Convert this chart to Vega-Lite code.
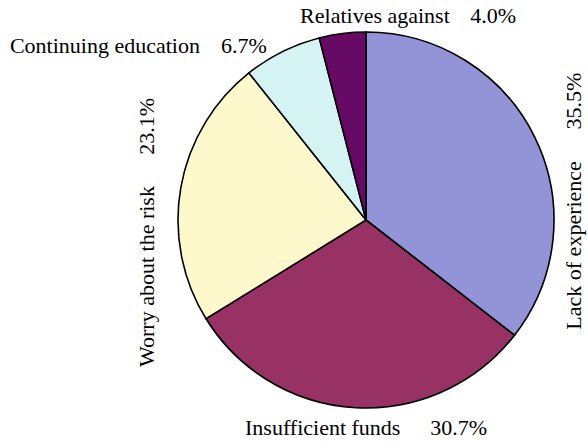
{
  "$schema": "https://vega.github.io/schema/vega-lite/v6.json",
  "autosize": "none",
  "width": 440,
  "height": 440,
  "padding": {"left": 146, "top": 0, "right": 2, "bottom": 2},
  "background": "white",
  "config": {"view": {"stroke": null}},
  "data": {
    "values": [
      {"label": "Lack of experience", "share": 0.355, "order": 1},
      {"label": "Insufficient funds", "share": 0.307, "order": 2},
      {"label": "Worry about the risk", "share": 0.231, "order": 3},
      {"label": "Continuing education", "share": 0.067, "order": 4},
      {"label": "Relatives against", "share": 0.040, "order": 5}
    ]
  },
  "encoding": {
    "theta": {"field": "share", "type": "quantitative", "stack": true},
    "order": {"field": "order", "type": "quantitative"}
  },
  "layer": [
    {
      "mark": {"type": "arc", "outerRadius": 188, "stroke": "black", "strokeWidth": 1.6},
      "encoding": {
        "color": {
          "field": "label", "type": "nominal", "legend": null,
          "scale": {
            "domain": ["Lack of experience", "Insufficient funds", "Worry about the risk", "Continuing education", "Relatives against"],
            "range": ["#9393d8", "#983264", "#fdf9cd", "#d5f3f3", "#660a66"]
          }
        }
      }
    },
    {
      "mark": {"type": "text", "radius": 198.6, "dx": -41, "dy": 0, "align": "left", "baseline": "alphabetic", "font": "Liberation Serif", "fontSize": 22, "fill": "black"},
      "encoding": {"detail": {"field": "label"}, "text": {"field": "label", "type": "nominal", "condition": {"test": "datum.label !== 'Relatives against'", "value": ""}}}
    },
    {
      "mark": {"type": "text", "radius": 198.6, "dx": 175, "dy": 0, "align": "right", "baseline": "alphabetic", "font": "Liberation Serif", "fontSize": 22, "fill": "black"},
      "encoding": {"detail": {"field": "label"}, "text": {"field": "share", "type": "quantitative", "format": ".1%", "condition": {"test": "datum.label !== 'Relatives against'", "value": ""}}}
    },
    {
      "mark": {"type": "text", "radius": 186.5, "dx": -273, "dy": 0, "align": "left", "baseline": "alphabetic", "font": "Liberation Serif", "fontSize": 22, "fill": "black"},
      "encoding": {"detail": {"field": "label"}, "text": {"field": "label", "type": "nominal", "condition": {"test": "datum.label !== 'Continuing education'", "value": ""}}}
    },
    {
      "mark": {"type": "text", "radius": 186.5, "dx": -16, "dy": 0, "align": "right", "baseline": "alphabetic", "font": "Liberation Serif", "fontSize": 22, "fill": "black"},
      "encoding": {"detail": {"field": "label"}, "text": {"field": "share", "type": "quantitative", "format": ".1%", "condition": {"test": "datum.label !== 'Continuing education'", "value": ""}}}
    },
    {
      "mark": {"type": "text", "radius": 215.3, "dx": -109.5, "dy": 0, "align": "left", "baseline": "alphabetic", "font": "Liberation Serif", "fontSize": 22, "fill": "black"},
      "encoding": {"detail": {"field": "label"}, "text": {"field": "label", "type": "nominal", "condition": {"test": "datum.label !== 'Insufficient funds'", "value": ""}}}
    },
    {
      "mark": {"type": "text", "radius": 215.3, "dx": 132.5, "dy": 0, "align": "right", "baseline": "alphabetic", "font": "Liberation Serif", "fontSize": 22, "fill": "black"},
      "encoding": {"detail": {"field": "label"}, "text": {"field": "share", "type": "quantitative", "format": ".1%", "condition": {"test": "datum.label !== 'Insufficient funds'", "value": ""}}}
    },
    {
      "mark": {"type": "text", "radius": 215.2, "angle": 270, "dx": -184, "dy": 0, "align": "left", "baseline": "alphabetic", "font": "Liberation Serif", "fontSize": 22, "fill": "black"},
      "encoding": {"detail": {"field": "label"}, "text": {"field": "label", "type": "nominal", "condition": {"test": "datum.label !== 'Worry about the risk'", "value": ""}}}
    },
    {
      "mark": {"type": "text", "radius": 215.2, "angle": 270, "dx": 85, "dy": 0, "align": "right", "baseline": "alphabetic", "font": "Liberation Serif", "fontSize": 22, "fill": "black"},
      "encoding": {"detail": {"field": "label"}, "text": {"field": "share", "type": "quantitative", "format": ".1%", "condition": {"test": "datum.label !== 'Worry about the risk'", "value": ""}}}
    },
    {
      "mark": {"type": "text", "radius": 239.4, "angle": 270, "dx": -215, "dy": 0, "align": "left", "baseline": "alphabetic", "font": "Liberation Serif", "fontSize": 22, "fill": "black"},
      "encoding": {"detail": {"field": "label"}, "text": {"field": "label", "type": "nominal", "condition": {"test": "datum.label !== 'Lack of experience'", "value": ""}}}
    },
    {
      "mark": {"type": "text", "radius": 239.4, "angle": 270, "dx": 42, "dy": 0, "align": "right", "baseline": "alphabetic", "font": "Liberation Serif", "fontSize": 22, "fill": "black"},
      "encoding": {"detail": {"field": "label"}, "text": {"field": "share", "type": "quantitative", "format": ".1%", "condition": {"test": "datum.label !== 'Lack of experience'", "value": ""}}}
    }
  ]
}
